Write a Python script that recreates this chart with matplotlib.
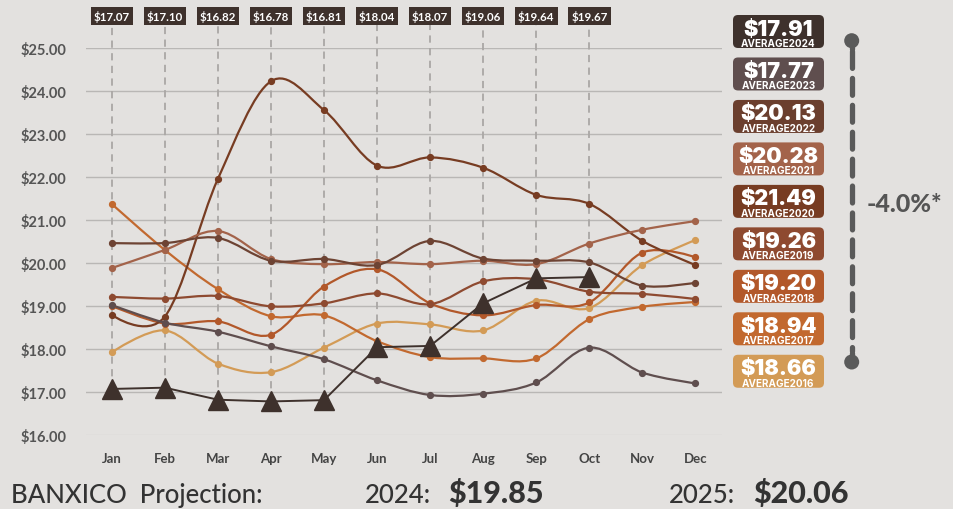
import matplotlib
matplotlib.use("Agg")
import matplotlib.pyplot as plt
import numpy as np
from matplotlib import transforms
from matplotlib.lines import Line2D
from matplotlib.patches import Circle, FancyBboxPatch, PathPatch
from matplotlib.path import Path

W, H = 954, 510

months = ["Jan", "Feb", "Mar", "Apr", "May", "Jun",
          "Jul", "Aug", "Sep", "Oct", "Nov", "Dec"]

# monthly USD/MXN averages per year
rate_2016 = [17.92, 18.43, 17.66, 17.46, 18.03, 18.59, 18.57, 18.43, 19.12, 18.95, 19.95, 20.53]
rate_2017 = [21.37, 20.30, 19.39, 18.76, 18.78, 18.18, 17.81, 17.78, 17.78, 18.69, 18.98, 19.09]
rate_2018 = [19.00, 18.59, 18.64, 18.33, 19.45, 19.85, 19.06, 18.78, 19.02, 19.08, 20.24, 20.13]
rate_2019 = [19.21, 19.17, 19.23, 18.99, 19.06, 19.29, 19.04, 19.57, 19.62, 19.33, 19.28, 19.16]
rate_2020 = [18.79, 18.75, 21.95, 24.22, 23.55, 22.26, 22.45, 22.21, 21.58, 21.37, 20.51, 19.95]
rate_2021 = [19.88, 20.30, 20.74, 20.09, 19.97, 20.02, 19.97, 20.05, 19.97, 20.45, 20.77, 20.97]
rate_2022 = [20.46, 20.46, 20.58, 20.05, 20.09, 19.95, 20.51, 20.10, 20.05, 20.01, 19.47, 19.54]
rate_2023 = [19.02, 18.61, 18.40, 18.06, 17.76, 17.27, 16.93, 16.96, 17.22, 18.03, 17.45, 17.20]
rate_2024 = [17.07, 17.10, 16.82, 16.78, 16.81, 18.04, 18.07, 19.06, 19.64, 19.67]

years = [2016, 2017, 2018, 2019, 2020, 2021, 2022, 2023]
series = [rate_2016, rate_2017, rate_2018, rate_2019,
          rate_2020, rate_2021, rate_2022, rate_2023]
colors = ["#d39b56", "#c2692f", "#b2582a", "#8e4a30",
          "#773c22", "#a3634a", "#6d4333", "#5f4e4e"]
color_2024 = "#3e312c"

# yearly averages shown in the side panel (top to bottom)
avg_years = [2024, 2023, 2022, 2021, 2020, 2019, 2018, 2017, 2016]
avg_values = [17.91, 17.77, 20.13, 20.28, 21.49, 19.26, 19.20, 18.94, 18.66]
avg_colors = ["#3e312c", "#5f4e4e", "#6b3f2e", "#a3634a", "#773c22",
              "#8e4a30", "#b2582a", "#c2692f", "#d39b56"]

change_text = "-4.0%*"
proj_2024 = 19.85
proj_2025 = 20.06

BG = "#e3e1df"
plt.rcParams["font.family"] = ["Lato", "DejaVu Sans"]
WIDE = ["Inter", "Lato", "DejaVu Sans"]


def smooth_path(ys):
    """Catmull-Rom style cubic Bezier path through the monthly points."""
    ys = np.asarray(ys, float)
    xs = np.arange(len(ys), dtype=float)
    n = len(ys)
    slope = np.zeros(n)
    slope[1:-1] = (ys[2:] - ys[:-2]) / 6.0
    dx = np.full(n, 1 / 3.0)
    dx[0] = dx[-1] = 0.0
    verts = [(xs[0], ys[0])]
    codes = [Path.MOVETO]
    for i in range(n - 1):
        verts += [(xs[i] + dx[i], ys[i] + slope[i]),
                  (xs[i + 1] - dx[i + 1], ys[i + 1] - slope[i + 1]),
                  (xs[i + 1], ys[i + 1])]
        codes += [Path.CURVE4] * 3
    return Path(verts, codes)


fig = plt.figure(figsize=(W / 100, H / 100), dpi=100, facecolor=BG)
# pixel coordinates measured from the top-left corner
pix = transforms.Affine2D().scale(1 / W, -1 / H).translate(0, 1) + fig.transFigure

ax = fig.add_axes([86 / W, 1 - 436 / H, (722 - 86) / W, (436 - 48.7) / H])
ax.set_facecolor(BG)
ax.set_xlim(-0.485, 11.5)
ax.set_ylim(16, 25)
for s in ax.spines.values():
    s.set_visible(False)

ax.set_yticks(np.arange(16, 26, 1))
ax.set_yticklabels([f"${v:.2f}" for v in np.arange(16, 26, 1)])
ax.set_xticks(range(12))
ax.set_xticklabels(months)
ax.tick_params(axis="y", length=0, pad=14, labelsize=10.5, labelcolor="#555555")
ax.tick_params(axis="x", length=0, pad=12, labelsize=9.5, labelcolor="#444444")
for lbl in ax.get_xticklabels() + ax.get_yticklabels():
    lbl.set_fontweight("bold")

for v in range(16, 26):
    ax.axhline(v, color="#d6d4d2" if v == 16 else "#b9b7b5", lw=1.0, zorder=1)

# dashed guides and value tags for the current year
tag_y = 1 - 17.4 / H
tag_tr = transforms.blended_transform_factory(ax.transData, fig.transFigure)
for i, v in enumerate(rate_2024):
    ax.plot([i, i], [v, 25.53], color="#aaa7a5", lw=1.3, ls=(0, (4, 3)),
            clip_on=False, zorder=2)
    ax.text(i, tag_y, f"${v:.2f}", transform=tag_tr, ha="center", va="center",
            fontsize=8.3, fontweight="bold", color="white",
            bbox=dict(boxstyle="square,pad=0.26", fc="#3e312c", ec="none"))

for ys, c in zip(series, colors):
    ax.add_patch(PathPatch(smooth_path(ys), fc="none", ec=c, lw=1.6,
                           zorder=3, clip_on=False))
    ax.plot(range(len(ys)), ys, ls="none", marker="o", ms=4.2, color=c,
            zorder=3.5, clip_on=False)

ax.plot(range(len(rate_2024)), rate_2024, color=color_2024, lw=1.4,
        marker="^", ms=14, zorder=5, clip_on=False)

# side panel with yearly averages
box_x, box_w, box_h = 733, 91, 33
for k, (yr, val, c) in enumerate(zip(avg_years, avg_values, avg_colors)):
    top = 16 + k * 42.47
    fig.add_artist(FancyBboxPatch((box_x, top), box_w, box_h,
                                  boxstyle="round,pad=0,rounding_size=5",
                                  fc=c, ec="none", transform=pix))
    fig.text(box_x + box_w / 2, top + 19.5, f"${val:.2f}", transform=pix,
             ha="center", va="baseline", fontsize=15.5, fontweight="black",
             family=WIDE, color="white")
    fig.text(box_x + box_w / 2, top + 30.8, f"AVERAGE{yr}", transform=pix,
             ha="center", va="baseline", fontsize=7.2, fontweight="bold",
             family=WIDE, color="white")

# range marker between the averages
tx = 851.7
fig.add_artist(Line2D([tx, tx], [52, 352], transform=pix, color="#5a5a5a",
                      lw=3.8, ls=(0, (3.2, 1.9)), dash_capstyle="round"))
fig.add_artist(Line2D([tx, tx], [41.7, 50], transform=pix, color="#5a5a5a",
                      lw=3.8, solid_capstyle="round"))
fig.add_artist(Line2D([tx, tx], [354, 363], transform=pix, color="#5a5a5a",
                      lw=3.8, solid_capstyle="round"))
for cy in (41.7, 363):
    fig.add_artist(Circle((tx, cy), 7.5, transform=pix, fc="#5a5a5a", ec="none"))
fig.text(904, 205, change_text, transform=pix, ha="center", va="center",
         fontsize=18, fontweight="black", color="#555555")

# projection footer
fig.text(11, 503, "BANXICO  Projection:", transform=pix, ha="left",
         va="baseline", fontsize=18.5, fontweight="medium", color="#333333")
fig.text(365, 503, "2024:", transform=pix, ha="left", va="baseline",
         fontsize=18.5, fontweight="medium", color="#333333")
fig.text(448, 503, f"${proj_2024:.2f}", transform=pix, ha="left",
         va="baseline", fontsize=22, fontweight="black", color="#333333")
fig.text(669, 503, "2025:", transform=pix, ha="left", va="baseline",
         fontsize=18.5, fontweight="medium", color="#333333")
fig.text(753, 503, f"${proj_2025:.2f}", transform=pix, ha="left",
         va="baseline", fontsize=22, fontweight="black", color="#333333")

fig.savefig("out.png", dpi=100, facecolor=BG)
